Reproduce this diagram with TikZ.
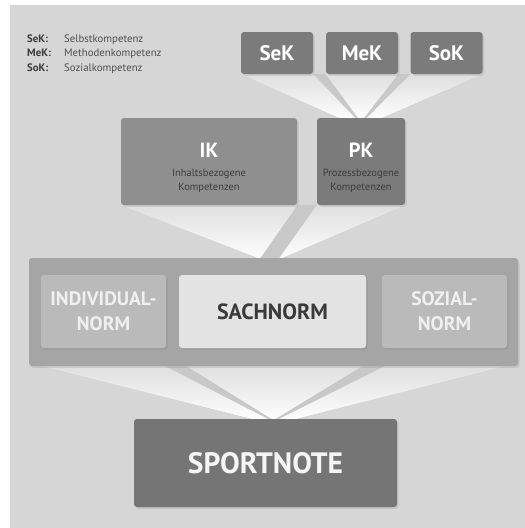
\documentclass[tikz,border=0pt]{standalone}
\usepackage{fontspec}
\setmainfont{PT Sans}
\usetikzlibrary{calc,shadows}
\definecolor{bgc}{HTML}{D6D6D6}
\definecolor{stripec}{HTML}{C8C8C8}
\definecolor{darkbox}{HTML}{7B7B7B}
\definecolor{ikc}{HTML}{8F8F8F}
\definecolor{normsc}{HTML}{A5A5A5}
\definecolor{sidec}{HTML}{BABABA}
\definecolor{sachc}{HTML}{E3E3E3}
\definecolor{sportc}{HTML}{757575}
\definecolor{legc}{HTML}{3A3A3A}
\definecolor{legtc}{HTML}{4E4E4E}
\definecolor{subc}{HTML}{3C3C3C}
\definecolor{beamtop}{HTML}{DFDFDF}
\definecolor{beambot}{HTML}{FDFDFD}
\pgfdeclarelayer{background}
\pgfsetlayers{background,main}
\tikzset{
  boxbase/.style={rectangle, rounded corners=3pt, inner sep=0pt, draw=none,
    drop shadow={opacity=0.22, shadow xshift=1.5pt, shadow yshift=-1.8pt}},
  kbox/.style={boxbase, fill=darkbox, minimum width=72pt, minimum height=42pt,
    text=white, font=\fontsize{21}{21}\selectfont\bfseries},
  bigbox/.style={boxbase, minimum height=87pt},
  normbox/.style={boxbase, minimum width=125pt, minimum height=73pt,
    fill=sidec, text=white!94!black, align=center,
    font=\fontsize{19.5}{25}\selectfont\bfseries},
  headlbl/.style={anchor=base, text=white, inner sep=0pt,
    font=\fontsize{20.5}{20}\selectfont\bfseries},
  sublbl/.style={anchor=base, text=subc, inner sep=0pt,
    font=\fontsize{10.5}{14}\selectfont},
  legkey/.style={anchor=base west, inner sep=0pt, text=legc,
    font=\fontsize{10.8}{13}\selectfont\bfseries},
  legtxt/.style={anchor=base west, inner sep=0pt, text=legtc,
    font=\fontsize{10.8}{13}\selectfont},
  beam/.style={top color=beamtop, bottom color=beambot, draw=none},
  stripe/.style={fill=stripec, draw=none}
}
\begin{document}
\begin{tikzpicture}[x=1pt,y=-1pt]
\useasboundingbox (0,0) rectangle (525,528);

% legend
\node[legkey] (k1) at (27,42) {SeK:};
\node[legtxt] (t1) at (64,42) {Selbstkompetenz};
\node[legkey] (k2) at (27,56.5) {MeK:};
\node[legtxt] (t2) at (64,56.5) {Methodenkompetenz};
\node[legkey] (k3) at (27,71.5) {SoK:};
\node[legtxt] (t3) at (64,71.5) {Sozialkompetenz};

% top boxes
\node[kbox] (sek) at (277,53) {SeK};
\node[kbox] (mek) at (362,53) {MeK};
\node[kbox] (sok) at (446.5,53) {SoK};

% competence boxes
\node[bigbox, fill=ikc, minimum width=176pt] (ik) at (209,161.5) {};
\node[bigbox, fill=darkbox, minimum width=88pt] (pk) at (361,161.5) {};
\node[headlbl] (ikh) at ($(ik.north)+(0,39.7)$) {IK};
\node[sublbl] (iks1) at ($(ik.north)+(0,58.7)$) {Inhaltsbezogene};
\node[sublbl] (iks2) at ($(ik.north)+(0,72.7)$) {Kompetenzen};
\node[headlbl] (pkh) at ($(pk.north)+(0,39.7)$) {PK};
\node[sublbl] (pks1) at ($(pk.north)+(0,58.7)$) {Prozessbezogene};
\node[sublbl] (pks2) at ($(pk.north)+(0,72.7)$) {Kompetenzen};

% norms container
\node[boxbase, fill=normsc, minimum width=489pt, minimum height=108pt] (norms) at (273.5,312) {};
\node[normbox] (indiv) at (103.5,311.5) {INDIVIDUAL-\\NORM};
\node[boxbase, fill=sachc, minimum width=187pt, minimum height=73pt,
  text=legc, font=\fontsize{22}{22}\selectfont\bfseries] (sach) at (272.5,311.5) {SACHNORM};
\node[normbox] (sozial) at (444.5,311.5) {SOZIAL-\\NORM};

% sportnote
\node[boxbase, fill=sportc, minimum width=263pt, minimum height=88pt,
  text=white!96!black, font=\fontsize{29.5}{29.5}\selectfont\bfseries] (sport) at (265.5,463) {SPORTNOTE};

\coordinate (f1) at (pk.north);
\coordinate (f2) at (norms.north);
\coordinate (f3) at (norms.south |- sport.north);

\begin{pgfonlayer}{background}
\fill[bgc] (10,5) rectangle (525,528);
% level 1 fan
\fill[stripe] (sek.south west) -- (sok.south east) -- ($(f1)+(21,0)$) -- ($(f1)+(-22,0)$) -- cycle;
\shade[beam] (sek.south west) -- (sek.south east) -- ($(f1)+(-6,0)$) -- ($(f1)+(-22,0)$) -- cycle;
\shade[beam] (mek.south west) -- (mek.south east) -- ($(f1)+(3,0)$) -- ($(f1)+(-3,0)$) -- cycle;
\shade[beam] (sok.south west) -- (sok.south east) -- ($(f1)+(21,0)$) -- ($(f1)+(6,0)$) -- cycle;
% level 2 fan
\fill[stripe] (ik.south west) -- (pk.south east) -- ($(f2)+(9,0)$) -- ($(f2)+(-16,0)$) -- cycle;
\shade[beam] (ik.south west) -- (ik.south east) -- ($(f2)+(-13,0)$) -- ($(f2)+(-16,0)$) -- cycle;
\shade[beam] (pk.south west) -- (pk.south east) -- ($(f2)+(9,0)$) -- ($(f2)+(6,0)$) -- cycle;
% level 3 fan
\fill[stripe] ($(indiv.south west |- norms.south)+(1,0)$) -- ($(sozial.south east |- norms.south)+(-2,0)$) -- ($(f3)+(23,0)$) -- ($(f3)+(-22,0)$) -- cycle;
\shade[beam] ($(indiv.south west |- norms.south)+(1,0)$) -- ($(indiv.south east |- norms.south)+(-1,0)$) -- ($(f3)+(-6,0)$) -- ($(f3)+(-22,0)$) -- cycle;
\shade[beam] ($(sach.south west |- norms.south)+(8,0)$) -- ($(sach.south east |- norms.south)+(-4,0)$) -- ($(f3)+(2,0)$) -- ($(f3)+(-2,0)$) -- cycle;
\shade[beam] ($(sozial.south west |- norms.south)+(3,0)$) -- ($(sozial.south east |- norms.south)+(-2,0)$) -- ($(f3)+(23,0)$) -- ($(f3)+(6,0)$) -- cycle;
\end{pgfonlayer}
\end{tikzpicture}
\end{document}
